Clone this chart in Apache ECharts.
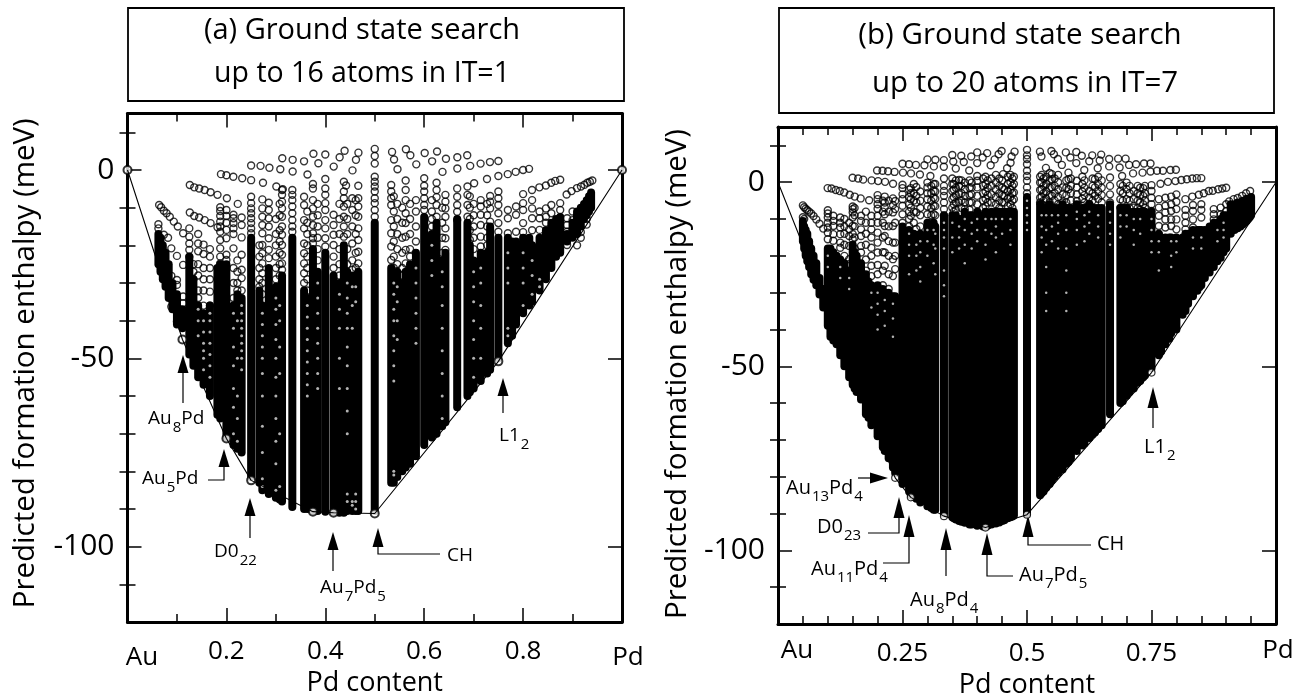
<!DOCTYPE html>
<html><head><meta charset="utf-8"><style>html,body{margin:0;padding:0;background:#fff}#c{width:1301px;height:700px}</style>
<script src="https://cdn.jsdelivr.net/npm/echarts@6/dist/echarts.min.js"></script></head><body><div id="c"></div>
<script>
// Panel (a): composition columns [Pd content, top of dense run, bottom of dense run] in meV
const columnsA=[[.0625,-17,-25],[.0667,-18,-27],[.0714,-20,-29],[.0769,-22,-31],[.0833,-25,-34],[.0909,-30,-37],[.1,-33,-41],[.1111,-37,-42],[.125,-23,-49],[.1333,-29,-52],[.1429,-36,-55],[.1538,-38,-57],[.1667,-36,-60],[.1818,-26,-65],[.1875,-25,-66],[.2,-25,-71],[.2143,-36,-73],[.2222,-33,-74],[.2308,-34,-75],[.25,-18,-81.5],[.2667,-32,-83],[.2727,-36,-85],[.2857,-26,-86],[.3,-31,-87],[.3077,-33,-87.5],[.3125,-28,-88],[.3333,-18,-89.5],[.3571,-32,-90],[.3636,-34,-90],[.375,-21,-90.5],[.3846,-27,-90.5],[.4,-22,-90.7],[.4167,-28,-90.8],[.4286,-30,-91],[.4375,-20,-91],[.4444,-27,-90.5],[.4545,-28,-90.5],[.4615,-28,-90.5],[.4667,-27,-90.5],[.5,-14,-90.5],[.5333,-26,-83],[.5385,-28,-83],[.5455,-27,-81.5],[.5556,-30,-80],[.5625,-27,-79],[.5714,-25,-78],[.5833,-22,-76],[.6,-12.5,-73],[.6154,-17,-71],[.625,-14,-70],[.6364,-24,-68],[.6429,-22,-67],[.6667,-13,-63],[.6875,-14,-60],[.6923,-20,-59],[.7,-24,-58],[.7143,-22,-56],[.7273,-22,-54],[.7333,-15,-53],[.75,-18,-50],[.7692,-18,-46],[.7778,-19,-44],[.7857,-19,-41],[.8,-18,-38],[.8125,-18,-36],[.8182,-20,-35],[.8333,-18,-32],[.8462,-16,-29],[.8571,-14,-26],[.8667,-13,-23],[.875,-12.5,-22],[.8889,-17,-19],[.9,-14,-18],[.9091,-11,-17],[.9167,-10,-15],[.9231,-9,-13],[.9286,-8,-12],[.9333,-7,-11],[.9375,-6,-10]];
// Panel (a): separate open circles that follow arcs along the top
const arcsA=[[.064,-9.3],[.068,-9.9],[.0735,-10.8],[.079,-11.5],[.0855,-12.4],[.0936,-13.7],[.1017,-15],[.1125,-16.8],[.126,-4],[.135,-4.6],[.145,-4.9],[.156,-5.3],[.168,-5.9],[.182,-6.6],[.201,-7.5],[.223,-9],[.189,-1.1],[.2,-1.4],[.214,-1.8],[.232,-2.2],[.25,-2.7],[.274,-3.4],[.301,-4.4],[.314,-5.1],[.25,1.2],[.269,1.1],[.287,.6],[.309,.2],[.334,-.4],[.364,-1.2],[.4,-2.4],[.442,-4.1],[.313,3.1],[.334,2.7],[.357,2.3],[.386,1.8],[.417,.9],[.455,-.1],[.376,4.3],[.4,4.1],[.429,3.4],[.462,2.7],[.5,1.7],[.439,5.1],[.467,4.6],[.5,3.7],[.5,5.6],[.535,4.8],[.539,2.8],[.546,.2],[.563,5.5],[.572,3.9],[.584,1.5],[.601,4.5],[.616,2.3],[.626,4.9],[.644,3],[.637,-.5],[.667,3.4],[.667,.4],[.687,3.9],[.693,1.1],[.714,1.7],[.733,2.1],[.75,2.4],[.701,-3.5],[.727,-2.4],[.75,-1.6],[.769,-1.1],[.785,-.5],[.8,0],[.812,.3],[.818,-5.3],[.833,-4.6],[.846,-4.1],[.857,-3.4],[.865,-2.9],[.875,-2.6],[.888,-6.5],[.898,-5.6],[.909,-4.8],[.917,-4.4],[.924,-3.9],[.93,-3.4],[.935,-3.1],[.94,-2.8],[.0625,-14.4],[.0625,-15.5],[.0735,-17.2],[.082,-18],[.0886,-20.8],[.1,-22.8],[.1125,-25.2],[.0886,-28.1],[.1,-29.2],[.1,-30.5],[.1125,-33.6],[.1125,-35.4],[.1,-40.2],[.0886,-36.3],[.126,-11.3],[.135,-12.2],[.145,-12.6],[.156,-13.3],[.168,-14.1],[.182,-15.2]];
// Panel (a): stacks of open circles above the dense runs [Pd content,[meV...]]
const stacksA=[[.125,[-15.5,-17.7,-19.5,-21.2,-23]],[.1333,[-25,-27,-29]],[.1429,[-17,-19.5,-21.6,-25,-28,-32,-34]],[.1538,[-19.8,-22.3,-26,-29,-32,-36]],[.1667,[-21,-23,-26,-29,-32.3,-36]],[.1875,[-9.9,-10.9,-12.2,-13.7,-15,-16.4,-18.6,-20.8,-23,-24.8]],[.2,[-10.6,-12.2,-14,-15.9,-18.1,-22.5,-23.9,-25.6]],[.2143,[-11.9,-12.8,-14.1,-15.5,-17,-20.8,-26,-30,-34]],[.2222,[-24,-27,-30,-32]],[.2308,[-12.6,-14.6,-17.9,-22.5,-26.5,-28.7,-32]],[.25,[-7.1,-8.8,-10.2,-11.5,-12.8,-14.1,-15.5,-16.8]],[.2667,[-20,-23,-26,-29,-31]],[.2727,[-7.8,-10.2,-12.4,-14.6,-16.8,-19.9,-22.1,-24.8,-27.4,-30,-33]],[.2857,[-8.7,-10.6,-12.8,-15,-18.1,-21.2,-23.4]],[.3,[-13,-17,-20,-23,-26,-29]],[.3077,[-9,-12,-16,-19,-22,-25,-28,-31]],[.3125,[-5.3,-6.6,-8.4,-10.2,-12.4,-15,-17.2,-19.9,-22.5,-24.8,-26.5]],[.3333,[-5.3,-6.6,-8,-9.7,-11.5,-13.3,-15,-16.4]],[.3571,[-7.1,-9.3,-13.3,-15.5,-19.5,-22.1,-24.8,-27.4,-30]],[.3636,[-11,-14,-17,-20,-23,-26,-29,-32]],[.375,[-3.7,-4.9,-8,-10.2,-12.4,-14.6,-16.8,-18.1,-19.5]],[.3846,[-9,-12,-15,-18,-21,-24]],[.4,[-4.9,-6.6,-8.8,-10.6,-13.3,-15.5,-18.1,-20.3]],[.4167,[-11.9,-14.6,-17.2,-19.9,-23,-26]],[.4286,[-9,-13,-17,-21,-25,-28]],[.4375,[-3.1,-5.7,-7.5,-9.7,-12.4,-15,-17.7]],[.4444,[-9,-13,-17,-21,-25]],[.4545,[-7.5,-10.6,-15,-19.5,-24,-26.5]],[.4615,[-8,-12,-17,-22,-26]],[.4667,[-4.2,-7.5,-9.7,-12.4,-15.5,-18.6,-21.7,-24.8]],[.5,[-1.8,-3.1,-4.4,-5.7,-7.5,-8.8,-10.6,-12.4]],[.5333,[-4,-5.7,-7.5,-9.3,-13.3,-16.8,-20.3,-23.9]],[.5385,[-7,-11,-15,-19,-23,-26]],[.5455,[-9,-13,-17,-21,-25]],[.5556,[-10,-14,-18,-22,-26,-28]],[.5625,[-2.8,-5.3,-8,-11.5,-14.1,-17.7,-21.2,-24.8]],[.5714,[-9,-13,-17,-21,-23]],[.5833,[-8,-11,-15,-19]],[.6,[-2.2,-4.2,-5.7,-7.5,-9.3,-10.6]],[.6154,[-8,-11,-13,-15]],[.625,[-3.4,-5.3,-7.2,-9.3,-12.4]],[.6364,[-10,-14,-18,-22]],[.6429,[-6.6,-8.4,-10.2,-12.4,-15.5,-18.1,-21.2]],[.6667,[-4.9,-7.1,-9.3,-11.1,-13.3]],[.6875,[-4.4,-6.6,-9.3,-12.4]],[.6923,[-7,-10,-13,-16,-18.5]],[.7,[-9,-12,-15,-18,-21]],[.7143,[-8,-9.7,-11.9,-14.6,-17.7,-20.3]],[.7273,[-9,-12,-15,-18,-20]],[.7333,[-6.9,-8.4,-10.2,-13.7]],[.75,[-5.7,-7.5,-9.3,-11.5,-14.1,-16.4]],[.7692,[-10.6,-12.8,-16.8]],[.7857,[-9.7,-11.9,-16.4]],[.8,[-6.4,-8.8,-10.6,-14.1,-16.5]],[.8182,[-8,-10.2,-12.8,-16]],[.8333,[-11,-12.8,-15.9]],[.8462,[-10.2,-12.4,-14]],[.8571,[-9.3,-11.5]],[.875,[-8.8,-10.6]],[.8889,[-12.8,-14.6,-16.4,-19.9]],[.9,[-11,-13.3,-16]],[.9091,[-12.4,-14.6,-20]],[.9167,[-16.5,-18]],[.9286,[-13,-14.5]]];
// Panel (a): pale gaps left inside the dense runs
const holesA=[[.1538,[-40,-43,-46,-48,-50,-53]],[.1429,[-37,-40,-44]],[.1667,[-38,-40,-43,-46,-49,-52,-55]],[.2308,[-36,-38,-40,-42,-44,-46,-48,-50,-53]],[.2143,[-38,-42,-47,-52,-58,-63,-70]],[.2222,[-40,-50,-60,-66,-72]],[.2727,[-38,-41,-44,-47,-50,-54,-60,-68,-75,-82,-84]],[.3,[-34,-37,-41,-45,-50,-55,-60,-66,-72,-78,-85]],[.3077,[-36,-40,-47,-54,-70,-84]],[.3636,[-36,-39,-42,-45,-48,-51,-54,-57,-60]],[.3846,[-30,-34,-38,-42,-46,-50,-54,-58]],[.4286,[-33,-37,-42,-50,-58]],[.4444,[-30,-34,-38,-42,-47,-52,-58,-64,-70,-86,-88]],[.4545,[-31,-36,-42,-88,-89]],[.4615,[-31,-35,-86,-88,-90]],[.5385,[-30,-33,-37,-40,-44,-48,-52,-56,-80,-81]],[.5455,[-31,-35,-40,-45]],[.5833,[-26,-30,-34,-38,-42,-46]],[.6364,[-27,-31,-36,-42,-48,-54,-60,-66]],[.6154,[-20,-24,-28]],[.7,[-27,-31,-35,-40,-45,-50,-55]],[.7143,[-26,-30,-36,-42,-50]],[.7692,[-22,-26,-30,-42,-44]],[.8,[-22,-26,-30,-36]],[.8182,[-24,-28,-33]],[.8333,[-29,-31]]];
const hullA=[[0,0],[.1111,-45],[.2,-71.3],[.25,-82.4],[.375,-90.7],[.4167,-91],[.5,-91.2],[.75,-50.8],[1,0]];
const groundA=[[0,0],[.1111,-45],[.2,-71.3],[.25,-82.4],[.375,-90.7],[.4167,-91],[.5,-91.2],[.75,-50.8],[1,0]];
// Panel (b)
const columnsB=[[.05,-10.5,-16],[.0526,-12,-18],[.0556,-13,-20],[.0588,-14,-21.5],[.0625,-16,-23],[.0667,-18,-25],[.0714,-20,-26.5],[.0769,-22,-28],[.0833,-26,-30.5],[.0909,-29,-34],[.1,-18,-39],[.1053,-18,-42],[.1111,-19,-43],[.1176,-20,-44],[.125,-21,-47],[.1333,-22,-50],[.1429,-24,-53],[.15,-17,-55],[.1538,-19,-56],[.1579,-20,-57],[.1667,-22,-59],[.1765,-25,-63],[.1818,-27,-64],[.1875,-28,-66],[.2,-28,-69],[.2105,-29,-72],[.2143,-30,-73],[.2222,-30,-75],[.2308,-31,-77.5],[.2353,-31,-79],[.25,-12,-82],[.2632,-13,-84],[.2667,-14,-85],[.2727,-14,-85.5],[.2778,-15,-86],[.2857,-14,-87],[.3,-11,-88],[.3077,-12,-88.5],[.3125,-11,-89],[.3158,-12,-89],[.3333,-9,-90],[.35,-9,-91],[.3529,-10,-91.3],[.3571,-9,-91.6],[.3636,-10,-92],[.3684,-10,-92.2],[.375,-8,-92.5],[.3846,-9,-93],[.3889,-9,-93],[.4,-8,-93.3],[.4118,-9,-93.5],[.4167,-8,-93.5],[.4211,-9,-93.3],[.4286,-8,-93],[.4375,-8,-92.7],[.4444,-8,-92.4],[.45,-8,-92],[.4545,-8,-91.8],[.4615,-8,-91.3],[.4667,-8,-91],[.4706,-8,-90.8],[.4737,-8,-90.5],[.5,-4,-90],[.5263,-6,-85],[.5294,-7,-84.5],[.5333,-7,-84],[.5385,-7,-83],[.5455,-6,-82],[.55,-7,-81],[.5556,-7,-80],[.5625,-7,-79],[.5714,-6,-78],[.5789,-7,-76.5],[.5833,-7,-76],[.5882,-7,-75],[.6,-6,-73],[.6111,-7,-71.5],[.6154,-7,-71],[.625,-6,-69.5],[.6316,-7,-68.5],[.6364,-7,-68],[.6429,-7,-67],[.65,-7,-66],[.6667,-6,-63],[.6875,-7,-60],[.6923,-7,-59.5],[.7,-7,-58],[.7059,-8,-57],[.7143,-8,-56],[.7222,-8,-54.5],[.7273,-8,-54],[.7333,-8,-53],[.7368,-8,-52.5],[.75,-8,-50.5],[.7647,-14,-47],[.7692,-15,-46],[.7778,-15,-44],[.7857,-15,-42.5],[.7895,-15,-41],[.8,-15,-40],[.8125,-15,-36],[.8182,-14,-35],[.8235,-14,-33],[.8333,-13,-31],[.8421,-13,-29.5],[.8462,-13,-28.5],[.85,-13,-28],[.8571,-13,-26],[.8667,-12,-24.5],[.875,-11,-23],[.8824,-11,-21.5],[.8889,-10,-20.5],[.8947,-9,-19],[.9,-9,-18],[.9091,-6,-14],[.9167,-6,-13],[.9231,-5.5,-12.5],[.9286,-5.5,-12],[.9333,-5,-11.5],[.9375,-5,-11],[.9412,-4.5,-10.5],[.9444,-4.5,-10],[.9474,-4.5,-9.5],[.95,-4,-9]];
const arcsB=[[.05,-6.3],[.0526,-6.8],[.0556,-7.2],[.0588,-7.6],[.0625,-8],[.0667,-8.5],[.0714,-9.2],[.0769,-10.1],[.0833,-11.3],[.0909,-12.6],[.05,-9.5],[.0526,-10],[.0997,-1.6],[.1075,-1.7],[.116,-2.1],[.124,-2.4],[.133,-2.8],[.144,-3.4],[.154,-3.9],[.166,-4.4],[.183,-4.9],[.1498,1.2],[.161,1],[.171,.7],[.188,.5],[.201,.3],[.215,.1],[.231,-.4],[.199,3.2],[.21,3.1],[.221,3],[.234,2.8],[.251,2.6],[.267,2.4],[.285,2.1],[.306,1.7],[.25,5],[.263,4.9],[.277,4.7],[.294,4.6],[.313,4.3],[.333,4.2],[.357,3.7],[.384,3.2],[.3,6.2],[.316,6.1],[.333,6],[.352,5.6],[.373,5.5],[.4,5.2],[.427,4.6],[.35,7.4],[.368,7.2],[.388,7],[.42,7.9],[.4,8.1],[.411,6.7],[.435,6.2],[.449,8.5],[.443,7.6],[.475,8.3],[.469,7],[.46,3.8],[.467,5.3],[.452,2.2],[.526,8.3],[.529,7],[.538,3.9],[.549,8.5],[.554,7.6],[.562,6.3],[.57,4.7],[.578,8.1],[.587,6.7],[.599,8.2],[.599,5.2],[.61,7.2],[.615,3.3],[.625,5.7],[.631,7.3],[.642,3.8],[.646,5.9],[.649,7.5],[.665,6.3],[.665,4.3],[.683,6.4],[.686,4],[.698,6.4],[.705,4.7],[.719,4.9],[.735,5.1],[.748,5.1],[.713,2.4],[.732,2.6],[.748,2.9],[.761,3.1],[.773,3.1],[.788,3.3],[.799,3.4],[.691,1.7],[.768,-.4],[.783,.1],[.798,.3],[.81,.6],[.821,.8],[.832,1],[.841,1.1],[.85,1.1],[.818,-4.6],[.832,-3.9],[.845,-3.4],[.855,-3],[.865,-2.4],[.873,-2.3],[.884,-1.9],[.892,-1.7],[.9,-1.5],[.906,-5.2],[.915,-4.6],[.923,-4.3],[.932,-3.7],[.94,-3],[.948,-2.4]];
const stacksB=[[.1,[-7.6,-8.5,-9.6,-11,-12.3,-13.7,-15.5]],[.1111,[-9.1,-10.5,-11.9,-14.1,-15.9]],[.125,[-9.6,-11,-12.3,-14.1,-16.4,-17.8]],[.1333,[-10,-12,-14,-17,-20]],[.1429,[-11,-12.8,-14.6,-17.3,-20.9,-22.3]],[.15,[-6.6,-7.3,-8.2,-9.6,-11.9,-14.1,-15.5]],[.1538,[-7,-9,-12,-15,-18]],[.1667,[-9.1,-10.5,-12.8,-14.6,-17.3,-19.1]],[.1765,[-8,-11,-14,-17,-21,-24]],[.1875,[-9.1,-11,-12.8,-15,-17.8,-20,-22.7,-25.5]],[.2,[-3.5,-4.6,-6,-7.2,-9.1,-11,-13.7,-16.4,-19.1,-22.5,-25]],[.2105,[-5,-8,-11,-15,-19,-24,-28]],[.2143,[-3.9,-5.5,-6.9,-8.7,-11.9,-14.6,-19.1,-22.7]],[.2222,[-5,-8,-12,-16,-20,-25,-29]],[.2308,[-4.4,-6.2,-8.2,-11.9,-16.4,-20.9,-25.5]],[.2353,[-5.1,-7.3,-11,-16.4,-20,-23.6]],[.25,[-.7,-1.6,-3.3,-4.6,-6.4,-8.7,-11]],[.2632,[-2,-4,-6,-8,-10,-12]],[.2667,[-1.6,-3,-4.6,-6.9,-9.1]],[.2727,[-.5,-3,-5,-8,-11]],[.2778,[-1.3,-3.7,-5.5,-8.2,-12.7]],[.2857,[-2.5,-5,-7,-9,-12]],[.3,[-.1,-1.4,-3,-4.6,-6.6,-8.7]],[.3077,[-1,-3,-5,-7,-9,-11]],[.3125,[-.5,-2.4,-4.2,-6.4,-8.7]],[.3158,[-.5,-2.5,-4.5,-6.5,-9]],[.3333,[1,-1,-2.4,-3.7,-5.5,-7.3,-9.1]],[.35,[1,-.5,-2.4,-4.6,-6.9]],[.3529,[-.5,-2,-4,-6,-8]],[.3571,[.5,-1.5,-3.5,-5.5,-7.5]],[.3636,[.6,-1,-3.3,-5.5]],[.3684,[.5,-1,-3,-5,-7]],[.375,[-.1,-1.9,-3.7,-5.5,-7.3]],[.3846,[.5,-1.5,-3.5,-5.5,-7.5]],[.3889,[-.1,-1.4,-3.3,-5.5]],[.4,[1.7,.4,-1.4,-3.7,-6]],[.4118,[1,-1,-3,-5,-7]],[.4167,[1.5,-.5,-2.5,-4.5,-6.5]],[.4211,[.5,-1.5,-3.5,-5.5]],[.4286,[1,-1,-3.3,-5.5]],[.4375,[2,0,-2,-4,-6]],[.4444,[1,-1,-3,-5,-7]],[.45,[.5,-1.5,-3.5,-5.5]],[.4545,[-1.9,-3.7,-5.5]],[.4615,[1.5,-.5,-2.5,-4.5,-6.5]],[.4667,[2,0,-2,-4,-6]],[.4706,[1,-1,-3,-5,-7]],[.4737,[1.5,-.5,-2.8,-4.6]],[.5,[8.8,7.3,6.3,4.9,3.1,1.7,.4,-1.4,-3]],[.5263,[1.5,-.1,-2.1,-4.2,-5.5]],[.5294,[2,0,-2,-4,-6]],[.5333,[1,-1,-3,-5]],[.5385,[1.5,-.5,-2.5,-4.5,-6.5]],[.5455,[2.5,.5,-1.5,-3.5,-5.5]],[.55,[2.2,.8,-1.4,-3.7]],[.5556,[1,-1,-3,-5]],[.5625,[2,0,-2,-4,-6]],[.5714,[-1.4,-3.3,-5.5]],[.5789,[.5,-1.5,-3.5,-5.5]],[.5833,[2.6,.8,-1.9]],[.5882,[1,-1,-3,-5]],[.6,[.4,-1.4,-3.3,-5.1]],[.6111,[1.5,-.5,-2.5,-4.5,-6.5]],[.6154,[.5,-1.5,-3.5,-5.5]],[.625,[-2.4,-4.2,-5.9]],[.6316,[1,-1,-3,-5]],[.6364,[.8,-1.4,-3.7]],[.6429,[1.5,-.5,-2.5,-4.5]],[.65,[.5,-1.5,-3.5,-5.5]],[.6667,[1.3,-1,-3.3,-5.5]],[.6875,[-.5,-2.4,-4.6,-6.9]],[.6923,[-1,-3,-5,-7]],[.7,[-.1,-1.9,-4.6,-6.9]],[.7059,[-1,-3,-5,-7]],[.7143,[-2.4,-4.6,-6.9]],[.7222,[-1,-3,-5,-7]],[.7273,[-1.5,-3.5,-5.5,-7.5]],[.7333,[-1.6,-3.7,-6,-7.8]],[.7368,[-1,-3,-5,-7]],[.75,[-.8,-2.4,-4.2,-6,-7.8]],[.7647,[-4.6,-6.9,-9.1,-11.9,-14.1]],[.7778,[-4.2,-6.4,-8.2,-10.1,-12.3]],[.7895,[-3.9,-6,-7.8,-10.1,-11.9]],[.8,[-3.3,-5.3,-7.3,-10.1,-12.8]],[.8182,[-7.5,-9.1,-11,-12.8]],[.8333,[-6.2,-7.8,-10.1,-12.3]],[.85,[-6,-7.5,-9.6]],[.875,[-7.3,-8.7,-10.1]],[.8889,[-6.9,-8.7]],[.9,[-6,-7.8]]];
const holesB=[[.1,[-20,-23]],[.125,[-23,-26]],[.1429,[-26,-29]],[.1875,[-30,-34]],[.2,[-30,-33,-36,-40]],[.2143,[-32,-35,-39]],[.2308,[-33,-37,-42]],[.2632,[-14,-17,-20,-25]],[.2778,[-17,-20,-24]],[.2857,[-16,-19,-23,-27]],[.3,[-13,-16,-20]],[.3125,[-13,-17,-22]],[.3158,[-14,-18,-25]],[.3333,[-11,-13,-15,-18,-24,-28,-31]],[.35,[-11,-15,-19]],[.3636,[-12,-15,-18]],[.375,[-10,-13,-17,-22]],[.3889,[-11,-14,-18]],[.4,[-10,-13,-16]],[.4167,[-10,-13,-17,-21]],[.4286,[-10,-14]],[.4375,[-10,-12,-15,-19]],[.45,[-10,-14]],[.4667,[-10,-13,-17]],[.5,[-5,-7,-9,-11,-13]],[.5294,[-9,-12,-15,-19]],[.5385,[-9,-13,-17,-23,-30,-35]],[.55,[-9,-12,-16]],[.5625,[-9,-11,-14,-18]],[.5789,[-9,-13,-18,-24,-30,-35]],[.6,[-8,-10,-13,-17]],[.6154,[-9,-12,-16]],[.625,[-8,-11,-14]],[.6429,[-9,-12,-15]],[.6667,[-8,-11,-14,-17]],[.6875,[-9,-12,-15]],[.7,[-9,-12]],[.7143,[-10,-13,-17]],[.7273,[-10,-14]],[.75,[-10,-13,-16,-19]],[.7647,[-16,-19,-24]],[.7895,[-16,-20,-23]],[.8,[-16,-19]],[.8333,[-15,-18]],[.85,[-15,-18]],[.8824,[-13,-16]],[.8947,[-11,-13,-15]]];
const hullB=[[0,0],[.2353,-80.3],[.2667,-85.6],[.3333,-90.7],[.4167,-93.8],[.5,-90.3],[.75,-51.7],[1,0]];
const groundB=[[.2353,-80.3],[.2667,-85.6],[.3333,-90.7],[.4167,-93.8],[.5,-90.3],[.75,-51.7]];
// Tick values
const yMajor=[-100,-50,0];
const yMinor=[-110,-90,-80,-70,-60,-40,-30,-20,-10,10];

const FONT='"Open Sans"';
const flat=stacks=>stacks.flatMap(s=>s[1].map(v=>[s[0],v]));

function axesFor(g,xInterval,split,fmt){
  const xs=['bottom','top'].map((p,i)=>({gridIndex:g,type:'value',position:p,min:0,max:1,interval:xInterval,
    axisLine:{onZero:false,lineStyle:{color:'#000',width:3}},
    axisTick:{inside:true,length:14,lineStyle:{color:'#000',width:1.5}},
    minorTick:{show:true,splitNumber:split,length:8,lineStyle:{color:'#000',width:1.5}},
    splitLine:{show:false},
    axisLabel:i==0?{show:true,margin:g==0?17:17,fontFamily:FONT,fontSize:26,color:'#000',showMinLabel:false,showMaxLabel:false,formatter:fmt}:{show:false},
    name:i==0?'Pd content':'',nameLocation:'middle',nameGap:48,nameTextStyle:{fontFamily:FONT,fontSize:27,color:'#000'}}));
  const ys=[];
  ['left','right'].forEach((p,i)=>{
    ys.push({gridIndex:g,type:'value',position:p,min:-120,max:15,
      axisLine:{show:true,onZero:false,lineStyle:{color:'#000',width:3}},
      axisTick:{show:true,inside:true,length:14,customValues:yMajor,lineStyle:{color:'#000',width:1.5}},
      splitLine:{show:false},
      axisLabel:i==0?{show:true,margin:13,fontFamily:FONT,fontSize:30,color:'#000',customValues:yMajor,formatter:v=>String(v)}:{show:false},
      name:i==0?'Predicted formation enthalpy (meV)':'',nameLocation:'middle',nameGap:g==0?87:85,nameTextStyle:{fontFamily:FONT,fontSize:29.5,color:'#000',padding:g==0?[0,0,0,9]:[0,0,0,3]}});
    ys.push({gridIndex:g,type:'value',position:p,min:-120,max:15,
      axisLine:{show:false},
      axisTick:{show:true,inside:true,length:8,customValues:yMinor,lineStyle:{color:'#000',width:1.5}},
      splitLine:{show:false},axisLabel:{show:false}});
  });
  return {xs,ys};
}
const A=axesFor(0,.2,2,v=>v.toFixed(1));
const B=axesFor(1,.25,5,v=>String(v));

const drawColumn=(params,api)=>{
  const a=api.coord([api.value(0),api.value(1)]),b=api.coord([api.value(0),api.value(2)]);
  return {type:'line',shape:{x1:a[0],y1:a[1],x2:b[0],y2:b[1]},style:{stroke:'#000',lineWidth:8,lineCap:'round'}};
};
function panelSeries(xi,yi,cols,arcs,stacks,holes,hull,ground,holeSize,gs,gw){
  return [
    {type:'custom',xAxisIndex:xi,yAxisIndex:yi,data:cols,renderItem:drawColumn,clip:false,encode:{x:0,y:[1,2]},silent:true},
    {type:'scatter',xAxisIndex:xi,yAxisIndex:yi,data:arcs.concat(flat(stacks)),symbol:'circle',symbolSize:7,clip:false,silent:true,
      itemStyle:{color:'rgba(0,0,0,0)',borderColor:'#000',borderWidth:1.4}},
    {type:'scatter',xAxisIndex:xi,yAxisIndex:yi,data:flat(holes),symbol:'circle',symbolSize:holeSize,clip:false,silent:true,
      itemStyle:{color:'#fff',opacity:.7}},
    {type:'line',xAxisIndex:xi,yAxisIndex:yi,data:hull,showSymbol:false,clip:false,silent:true,lineStyle:{color:'#000',width:1.1}},
    {type:'scatter',xAxisIndex:xi,yAxisIndex:yi,data:ground,symbol:'circle',symbolSize:gs,clip:false,silent:true,
      itemStyle:{color:'#fff',borderColor:'#000',borderWidth:gw}}
  ];
}
const label=(x,y,t,sz)=>({type:'text',x,y,style:{text:t,fontFamily:FONT,fontSize:sz||19,fill:'#000',verticalAlign:'middle',align:'left',
  rich:{n:{fontFamily:FONT,fontSize:sz||19,color:'#000'},s:{fontFamily:FONT,fontSize:15,color:'#000',padding:[18,0,0,1]}}}});
function arrow(pts){
  const [tx,ty]=pts[0],[bx,by]=pts[1];
  const vert=tx===bx, hw=5.5;
  const head=vert?[[tx,ty],[bx-hw,by],[bx+hw,by]]:[[tx,ty],[bx,by-hw],[bx,by+hw]];
  return [
    {type:'polyline',shape:{points:pts.slice(1)},style:{stroke:'#000',lineWidth:1.2,fill:null}},
    {type:'polygon',shape:{points:head},style:{fill:'#000',stroke:null}}
  ];
}
const plain=(x,y,t,sz)=>({type:'text',x,y,style:{text:t,fontFamily:FONT,fontSize:sz,fill:'#000',align:'center',verticalAlign:'middle'}});
const annotations=[
  label(148,419,'{n|Au}{s|8}{n|Pd}'),label(142,479,'{n|Au}{s|5}{n|Pd}'),label(214,552,'{n|D0}{s|22}'),label(320,588,'{n|Au}{s|7}{n|Pd}{s|5}'),label(447,556,'CH'),label(499,436,'{n|L1}{s|2}'),
  ...arrow([[183,355],[183,373],[183,403]]),...arrow([[224,449],[224,467],[224,480],[208,480]]),...arrow([[250,498],[250,516],[250,538]]),...arrow([[333,532],[333,550],[333,571]]),...arrow([[378,528],[378,547],[378,554],[440,554]]),...arrow([[503,378],[503,396],[503,413]]),
  label(786,488,'{n|Au}{s|13}{n|Pd}{s|4}',20),label(817,527,'{n|D0}{s|23}',20),label(811,569,'{n|Au}{s|11}{n|Pd}{s|4}',20),label(910,600,'{n|Au}{s|8}{n|Pd}{s|4}',20),label(1019,575,'{n|Au}{s|7}{n|Pd}{s|5}',20),label(1097,544,'CH',20),label(1144,447,'{n|L1}{s|2}',20),
  ...arrow([[888,478],[870,478],[858,478]]),...arrow([[899,497],[899,518],[899,533],[868,533]]),...arrow([[909,515],[909,537],[909,563],[883,563]]),...arrow([[946,528],[946,550],[946,576]]),...arrow([[987,533],[987,555],[987,576],[1013,576]]),...arrow([[1028,515],[1028,537],[1028,545],[1091,545]]),...arrow([[1153,387],[1153,408],[1153,428]]),
  plain(142,658,'Au',26),plain(628,658,'Pd',26),plain(797,651,'Au',26),plain(1278,651,'Pd',26),
  {type:'rect',shape:{x:128,y:8,width:496,height:93},style:{fill:null,stroke:'#000',lineWidth:1.8}},
  {type:'rect',shape:{x:779,y:8,width:495,height:105},style:{fill:null,stroke:'#000',lineWidth:1.8}},
  plain(362,31,'(a) Ground state search',29),plain(362,74,'up to 16 atoms in IT=1',28.5),
  plain(1020,36,'(b) Ground state search',29.5),plain(1025,84,'up to 20 atoms in IT=7',29.5)
];
const chart=echarts.init(document.getElementById('c'),null,{renderer:'canvas'});
chart.setOption({animation:false,backgroundColor:'#fff',
  grid:[{left:127.5,top:113.5,width:494.5,height:508.5,outerBoundsMode:'none'},{left:778,top:127,width:498,height:497,outerBoundsMode:'none'}],
  xAxis:[...A.xs,...B.xs],yAxis:[...A.ys,...B.ys],
  graphic:annotations,
  series:[...panelSeries(0,0,columnsA,arcsA,stacksA,holesA,hullA,groundA,3,8,2),...panelSeries(2,4,columnsB,arcsB,stacksB,holesB,hullB,groundB,2.5,7,1.2)]
});
</script></body></html>
